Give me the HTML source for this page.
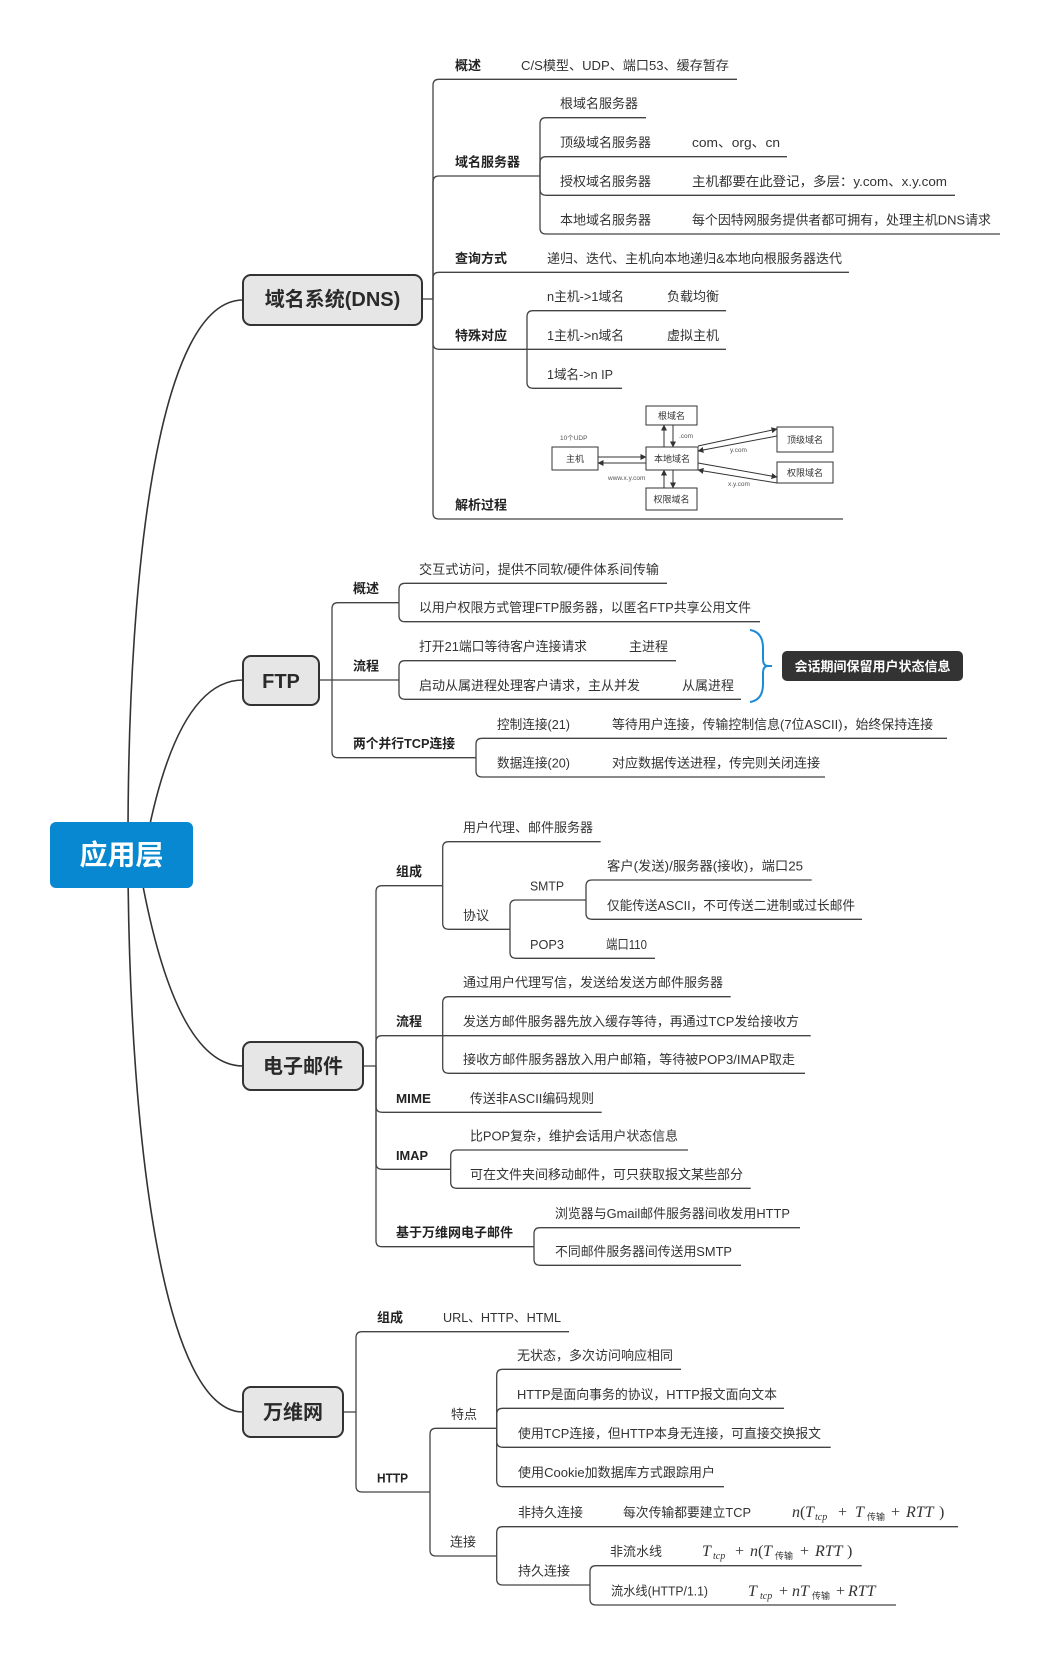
<!DOCTYPE html>
<html>
<head>
<meta charset="utf-8">
<style>
html,body{margin:0;padding:0;background:#fff;}
svg{display:block;}
.t{font-family:"Liberation Sans","Noto Sans CJK SC",sans-serif;font-size:13px;fill:#333;}
.b{font-weight:bold;fill:#222;}
.ln{fill:none;stroke:#444;stroke-width:1.3;}
.cv{fill:none;stroke:#333;stroke-width:1.6;}
.node{fill:#e6e6e6;stroke:#333;stroke-width:2;}
.nt{font-family:"Liberation Sans","Noto Sans CJK SC",sans-serif;font-size:20px;font-weight:bold;fill:#2a2a2a;text-anchor:middle;}
.d{font-family:"Liberation Sans","Noto Sans CJK SC",sans-serif;font-size:9px;fill:#333;text-anchor:middle;}
.ds{font-family:"Liberation Sans","Noto Sans CJK SC",sans-serif;font-size:6.5px;fill:#555;}
.dbox{fill:#fff;stroke:#333;stroke-width:1;}
.dl{fill:none;stroke:#333;stroke-width:1;}
.m{font-family:"Liberation Serif","Noto Serif CJK SC",serif;font-size:16px;fill:#333;}
.mi{font-style:italic;}
.ms{font-size:10px;font-style:italic;}
.mc{font-family:"Noto Sans CJK SC",sans-serif;font-size:9px;}
</style>
</head>
<body>
<svg width="1051" height="1656" viewBox="0 0 1051 1656" xmlns="http://www.w3.org/2000/svg">
<defs>
<marker id="ah" markerWidth="6" markerHeight="6" refX="5.5" refY="3" orient="auto" markerUnits="userSpaceOnUse">
<path d="M0,0 L6,3 L0,6 z" fill="#333"/>
</marker>
</defs>

<!-- main curves -->
<path class="cv" d="M128 840 C128 560 160 300 243 300"/>
<path class="cv" d="M146.7 840 Q178 680 243 680"/>
<path class="cv" d="M140 870 Q175 1066 243 1066"/>
<path class="cv" d="M128 870 C130 1150 165 1412 243 1412"/>

<!-- root -->
<rect x="50" y="822" width="143" height="66" rx="6" fill="#0788d0"/>
<text x="121.5" y="864.5" text-anchor="middle" style="font-family:'Liberation Sans','Noto Sans CJK SC',sans-serif;font-size:28px;font-weight:bold;fill:#fff;">应用层</text>

<!-- ================= DNS ================= -->
<path class="ln" d="M422 299 H433"/>
<path class="ln" d="M433 299 V85.3 Q433 79.3 439 79.3 H737"/>
<path class="ln" d="M433 299 V182 Q433 176 439 176 H540"/>
<path class="ln" d="M433 299 V278.3 Q433 272.3 439 272.3 H849"/>
<path class="ln" d="M433 299 V343.3 Q433 349.3 439 349.3 H527"/>
<path class="ln" d="M433 299 V513 Q433 519 439 519 H843"/>
<path class="ln" d="M540 176 V123.7 Q540 117.7 546 117.7 H646"/>
<path class="ln" d="M540 176 V162.7 Q540 156.7 546 156.7 H787"/>
<path class="ln" d="M540 176 V189.3 Q540 195.3 546 195.3 H955"/>
<path class="ln" d="M540 176 V228 Q540 234 546 234 H1000"/>
<path class="ln" d="M527 349.3 V316.7 Q527 310.7 533 310.7 H726"/>
<path class="ln" d="M527 349.3 H726"/>
<path class="ln" d="M527 349.3 V382.3 Q527 388.3 533 388.3 H622"/>

<rect class="node" x="243" y="275" width="179" height="50" rx="8"/>
<text class="nt" x="332.5" y="306">域名系统(DNS)</text>

<text class="t b" x="455" y="70">概述</text>
<text class="t" x="521" y="70" textLength="208" lengthAdjust="spacingAndGlyphs">C/S模型、UDP、端口53、缓存暂存</text>
<text class="t b" x="455" y="166.5">域名服务器</text>
<text class="t" x="560" y="108">根域名服务器</text>
<text class="t" x="560" y="147">顶级域名服务器</text>
<text class="t" x="692" y="147" textLength="88" lengthAdjust="spacingAndGlyphs">com、org、cn</text>
<text class="t" x="560" y="186">授权域名服务器</text>
<text class="t" x="692" y="186" textLength="255" lengthAdjust="spacingAndGlyphs">主机都要在此登记，多层：y.com、x.y.com</text>
<text class="t" x="560" y="224.5">本地域名服务器</text>
<text class="t" x="692" y="224.5" textLength="299" lengthAdjust="spacingAndGlyphs">每个因特网服务提供者都可拥有，处理主机DNS请求</text>
<text class="t b" x="455" y="263">查询方式</text>
<text class="t" x="547" y="263" textLength="295" lengthAdjust="spacingAndGlyphs">递归、迭代、主机向本地递归&amp;本地向根服务器迭代</text>
<text class="t b" x="455" y="340">特殊对应</text>
<text class="t" x="547" y="301" textLength="77" lengthAdjust="spacingAndGlyphs">n主机-&gt;1域名</text>
<text class="t" x="667" y="301">负载均衡</text>
<text class="t" x="547" y="340" textLength="77" lengthAdjust="spacingAndGlyphs">1主机-&gt;n域名</text>
<text class="t" x="667" y="340">虚拟主机</text>
<text class="t" x="547" y="379" textLength="66" lengthAdjust="spacingAndGlyphs">1域名-&gt;n IP</text>
<text class="t b" x="455" y="509.5">解析过程</text>

<!-- DNS resolution diagram -->
<rect class="dbox" x="646" y="406" width="51" height="19"/>
<text class="d" x="671.5" y="419">根域名</text>
<rect class="dbox" x="646" y="447" width="52" height="23"/>
<text class="d" x="672" y="462">本地域名</text>
<rect class="dbox" x="646" y="488" width="51" height="22"/>
<text class="d" x="671.5" y="502.5">权限域名</text>
<rect class="dbox" x="552" y="447" width="46" height="23"/>
<text class="d" x="575" y="462">主机</text>
<rect class="dbox" x="777" y="427" width="56" height="25"/>
<text class="d" x="805" y="443">顶级域名</text>
<rect class="dbox" x="777" y="462" width="56" height="21"/>
<text class="d" x="805" y="476">权限域名</text>

<line class="dl" x1="598" y1="457" x2="646" y2="457" marker-end="url(#ah)"/>
<line class="dl" x1="646" y1="463" x2="598" y2="463" marker-end="url(#ah)"/>
<line class="dl" x1="664" y1="447" x2="664" y2="425" marker-end="url(#ah)"/>
<line class="dl" x1="673" y1="425" x2="673" y2="447" marker-end="url(#ah)"/>
<line class="dl" x1="664" y1="488" x2="664" y2="470" marker-end="url(#ah)"/>
<line class="dl" x1="673" y1="470" x2="673" y2="488" marker-end="url(#ah)"/>
<line class="dl" x1="698" y1="446" x2="777" y2="429" marker-end="url(#ah)"/>
<line class="dl" x1="777" y1="436" x2="698" y2="451" marker-end="url(#ah)"/>
<line class="dl" x1="698" y1="463" x2="777" y2="477" marker-end="url(#ah)"/>
<line class="dl" x1="777" y1="483" x2="698" y2="470" marker-end="url(#ah)"/>

<text class="ds" x="560" y="440">10个UDP</text>
<text class="ds" x="679" y="438">.com</text>
<text class="ds" x="730" y="452">y.com</text>
<text class="ds" x="608" y="480">www.x.y.com</text>
<text class="ds" x="728" y="486">x.y.com</text>

<!-- ================= FTP ================= -->
<path class="ln" d="M319 680 H332"/>
<path class="ln" d="M332 680 V608.7 Q332 602.7 338 602.7 H399"/>
<path class="ln" d="M332 680 H399"/>
<path class="ln" d="M332 680 V751.7 Q332 757.7 338 757.7 H476"/>
<path class="ln" d="M399 602.7 V589.3 Q399 583.3 405 583.3 H667"/>
<path class="ln" d="M399 602.7 V615.7 Q399 621.7 405 621.7 H760"/>
<path class="ln" d="M399 680 V666.7 Q399 660.7 405 660.7 H676"/>
<path class="ln" d="M399 680 V693.3 Q399 699.3 405 699.3 H741"/>
<path class="ln" d="M476 757.7 V744.3 Q476 738.3 482 738.3 H947"/>
<path class="ln" d="M476 757.7 V771 Q476 777 482 777 H825"/>

<rect class="node" x="243" y="656" width="76" height="49" rx="8"/>
<text class="nt" x="281" y="688">FTP</text>

<text class="t b" x="353" y="593">概述</text>
<text class="t" x="419" y="574" textLength="240" lengthAdjust="spacingAndGlyphs">交互式访问，提供不同软/硬件体系间传输</text>
<text class="t" x="419" y="612" textLength="332" lengthAdjust="spacingAndGlyphs">以用户权限方式管理FTP服务器，以匿名FTP共享公用文件</text>
<text class="t b" x="353" y="670.5">流程</text>
<text class="t" x="419" y="651" textLength="168" lengthAdjust="spacingAndGlyphs">打开21端口等待客户连接请求</text>
<text class="t" x="629" y="651">主进程</text>
<text class="t" x="419" y="690">启动从属进程处理客户请求，主从并发</text>
<text class="t" x="682" y="690">从属进程</text>
<text class="t b" x="353" y="748" textLength="102" lengthAdjust="spacingAndGlyphs">两个并行TCP连接</text>
<text class="t" x="497" y="729" textLength="73" lengthAdjust="spacingAndGlyphs">控制连接(21)</text>
<text class="t" x="612" y="729" textLength="321" lengthAdjust="spacingAndGlyphs">等待用户连接，传输控制信息(7位ASCII)，始终保持连接</text>
<text class="t" x="497" y="767.5" textLength="73" lengthAdjust="spacingAndGlyphs">数据连接(20)</text>
<text class="t" x="612" y="767.5">对应数据传送进程，传完则关闭连接</text>

<!-- brace + callout -->
<path d="M750 630 Q763 632 763 648 V659 Q763 666 768 666 Q763 666 763 673 V684 Q763 700 750 702" fill="none" stroke="#1a8bd6" stroke-width="2"/>
<line x1="765" y1="666" x2="772" y2="666" stroke="#1a8bd6" stroke-width="2"/>
<rect x="782" y="651" width="181" height="30" rx="5" fill="#333"/>
<text x="872.5" y="671" text-anchor="middle" class="t" style="font-weight:bold;fill:#fff;">会话期间保留用户状态信息</text>

<!-- ================= Email ================= -->
<path class="ln" d="M363 1066 H376"/>
<path class="ln" d="M376 1066 V891.7 Q376 885.7 382 885.7 H442.7"/>
<path class="ln" d="M376 1066 V1041.7 Q376 1035.7 382 1035.7 H442.7"/>
<path class="ln" d="M376 1066 V1106.3 Q376 1112.3 382 1112.3 H601.7"/>
<path class="ln" d="M376 1066 V1163.3 Q376 1169.3 382 1169.3 H450.7"/>
<path class="ln" d="M376 1066 V1240.7 Q376 1246.7 382 1246.7 H534"/>
<path class="ln" d="M442.7 885.7 V847.7 Q442.7 841.7 448.7 841.7 H600.7"/>
<path class="ln" d="M442.7 885.7 V923.3 Q442.7 929.3 448.7 929.3 H510"/>
<path class="ln" d="M510 929.3 V906 Q510 900 516 900 H586"/>
<path class="ln" d="M510 929.3 V952.3 Q510 958.3 516 958.3 H655"/>
<path class="ln" d="M586 900 V886 Q586 880 592 880 H811.7"/>
<path class="ln" d="M586 900 V913.3 Q586 919.3 592 919.3 H862"/>
<path class="ln" d="M442.7 1035.7 V1002.7 Q442.7 996.7 448.7 996.7 H730.7"/>
<path class="ln" d="M442.7 1035.7 H810.7"/>
<path class="ln" d="M442.7 1035.7 V1067.3 Q442.7 1073.3 448.7 1073.3 H805"/>
<path class="ln" d="M450.7 1169.3 V1156 Q450.7 1150 456.7 1150 H688"/>
<path class="ln" d="M450.7 1169.3 V1182.3 Q450.7 1188.3 456.7 1188.3 H750.7"/>
<path class="ln" d="M534 1246.7 V1233.7 Q534 1227.7 540 1227.7 H800"/>
<path class="ln" d="M534 1246.7 V1259.3 Q534 1265.3 540 1265.3 H741"/>

<rect class="node" x="243" y="1042" width="120" height="48" rx="8"/>
<text class="nt" x="303" y="1073">电子邮件</text>

<text class="t b" x="396" y="876">组成</text>
<text class="t" x="463" y="832">用户代理、邮件服务器</text>
<text class="t" x="463" y="920">协议</text>
<text class="t" x="530" y="890.5" textLength="34" lengthAdjust="spacingAndGlyphs">SMTP</text>
<text class="t" x="530" y="949" textLength="34" lengthAdjust="spacingAndGlyphs">POP3</text>
<text class="t" x="606" y="949" textLength="41" lengthAdjust="spacingAndGlyphs">端口110</text>
<text class="t" x="607" y="870.5" textLength="196" lengthAdjust="spacingAndGlyphs">客户(发送)/服务器(接收)，端口25</text>
<text class="t" x="607" y="910" textLength="248" lengthAdjust="spacingAndGlyphs">仅能传送ASCII，不可传送二进制或过长邮件</text>
<text class="t b" x="396" y="1026">流程</text>
<text class="t" x="463" y="987">通过用户代理写信，发送给发送方邮件服务器</text>
<text class="t" x="463" y="1026" textLength="336" lengthAdjust="spacingAndGlyphs">发送方邮件服务器先放入缓存等待，再通过TCP发给接收方</text>
<text class="t" x="463" y="1064" textLength="332" lengthAdjust="spacingAndGlyphs">接收方邮件服务器放入用户邮箱，等待被POP3/IMAP取走</text>
<text class="t b" x="396" y="1103" textLength="35" lengthAdjust="spacingAndGlyphs">MIME</text>
<text class="t" x="470" y="1103" textLength="124" lengthAdjust="spacingAndGlyphs">传送非ASCII编码规则</text>
<text class="t b" x="396" y="1160" textLength="32" lengthAdjust="spacingAndGlyphs">IMAP</text>
<text class="t" x="470" y="1140.5" textLength="208" lengthAdjust="spacingAndGlyphs">比POP复杂，维护会话用户状态信息</text>
<text class="t" x="470" y="1179">可在文件夹间移动邮件，可只获取报文某些部分</text>
<text class="t b" x="396" y="1237">基于万维网电子邮件</text>
<text class="t" x="555" y="1218" textLength="235" lengthAdjust="spacingAndGlyphs">浏览器与Gmail邮件服务器间收发用HTTP</text>
<text class="t" x="555" y="1256" textLength="177" lengthAdjust="spacingAndGlyphs">不同邮件服务器间传送用SMTP</text>

<!-- ================= WWW ================= -->
<path class="ln" d="M343 1412 H356"/>
<path class="ln" d="M356 1412 V1337.7 Q356 1331.7 362 1331.7 H569"/>
<path class="ln" d="M356 1412 V1486 Q356 1492 362 1492 H430"/>
<path class="ln" d="M430 1492 V1434.3 Q430 1428.3 436 1428.3 H496.7"/>
<path class="ln" d="M430 1492 V1550 Q430 1556 436 1556 H496.7"/>
<path class="ln" d="M496.7 1428.3 V1375.3 Q496.7 1369.3 502.7 1369.3 H681"/>
<path class="ln" d="M496.7 1428.3 V1414.3 Q496.7 1408.3 502.7 1408.3 H784"/>
<path class="ln" d="M496.7 1428.3 V1441.3 Q496.7 1447.3 502.7 1447.3 H830.7"/>
<path class="ln" d="M496.7 1428.3 V1480.7 Q496.7 1486.7 502.7 1486.7 H724"/>
<path class="ln" d="M496.7 1556 V1532.7 Q496.7 1526.7 502.7 1526.7 H958"/>
<path class="ln" d="M496.7 1556 V1579 Q496.7 1585 502.7 1585 H590"/>
<path class="ln" d="M590 1585 V1571.7 Q590 1565.7 596 1565.7 H861.7"/>
<path class="ln" d="M590 1585 V1599 Q590 1605 596 1605 H896"/>

<rect class="node" x="243" y="1387" width="100" height="50" rx="8"/>
<text class="nt" x="293" y="1419">万维网</text>

<text class="t b" x="377" y="1322">组成</text>
<text class="t" x="443" y="1322" textLength="118" lengthAdjust="spacingAndGlyphs">URL、HTTP、HTML</text>
<text class="t b" x="377" y="1482.5" textLength="31" lengthAdjust="spacingAndGlyphs">HTTP</text>
<text class="t" x="451" y="1419">特点</text>
<text class="t" x="450" y="1546.5">连接</text>
<text class="t" x="517" y="1360">无状态，多次访问响应相同</text>
<text class="t" x="517" y="1399" textLength="260" lengthAdjust="spacingAndGlyphs">HTTP是面向事务的协议，HTTP报文面向文本</text>
<text class="t" x="518" y="1438" textLength="303" lengthAdjust="spacingAndGlyphs">使用TCP连接，但HTTP本身无连接，可直接交换报文</text>
<text class="t" x="518" y="1477" textLength="197" lengthAdjust="spacingAndGlyphs">使用Cookie加数据库方式跟踪用户</text>
<text class="t" x="518" y="1517">非持久连接</text>
<text class="t" x="623" y="1517" textLength="128" lengthAdjust="spacingAndGlyphs">每次传输都要建立TCP</text>
<text class="t" x="518" y="1575.5">持久连接</text>
<text class="t" x="610" y="1556">非流水线</text>
<text class="t" x="611" y="1595.5" textLength="97" lengthAdjust="spacingAndGlyphs">流水线(HTTP/1.1)</text>

<!-- formula 1: n(T_tcp + T_传输 + RTT) -->
<g class="m">
<text class="m mi" x="792" y="1517">n</text>
<text class="m" x="800" y="1517">(</text>
<text class="m mi" x="805" y="1517">T</text>
<text class="m ms" x="815" y="1520">tcp</text>
<text class="m" x="838" y="1517">+</text>
<text class="m mi" x="855" y="1517">T</text>
<text class="m mc" x="867" y="1520">传输</text>
<text class="m" x="891" y="1517">+</text>
<text class="m mi" x="906" y="1517">RTT</text>
<text class="m" x="939" y="1517">)</text>
</g>
<!-- formula 2: T_tcp + n(T_传输 + RTT) -->
<g>
<text class="m mi" x="702" y="1556">T</text>
<text class="m ms" x="713" y="1559">tcp</text>
<text class="m" x="735" y="1556">+</text>
<text class="m mi" x="750" y="1556">n</text>
<text class="m" x="758" y="1556">(</text>
<text class="m mi" x="763" y="1556">T</text>
<text class="m mc" x="775" y="1559">传输</text>
<text class="m" x="800" y="1556">+</text>
<text class="m mi" x="815" y="1556">RTT</text>
<text class="m" x="847" y="1556">)</text>
</g>
<!-- formula 3: T_tcp + nT_传输 + RTT -->
<g>
<text class="m mi" x="748" y="1596">T</text>
<text class="m ms" x="760" y="1599">tcp</text>
<text class="m" x="779" y="1596">+</text>
<text class="m mi" x="792" y="1596">n</text>
<text class="m mi" x="800" y="1596">T</text>
<text class="m mc" x="812" y="1599">传输</text>
<text class="m" x="836" y="1596">+</text>
<text class="m mi" x="848" y="1596">RTT</text>
</g>
</svg>
</body>
</html>
